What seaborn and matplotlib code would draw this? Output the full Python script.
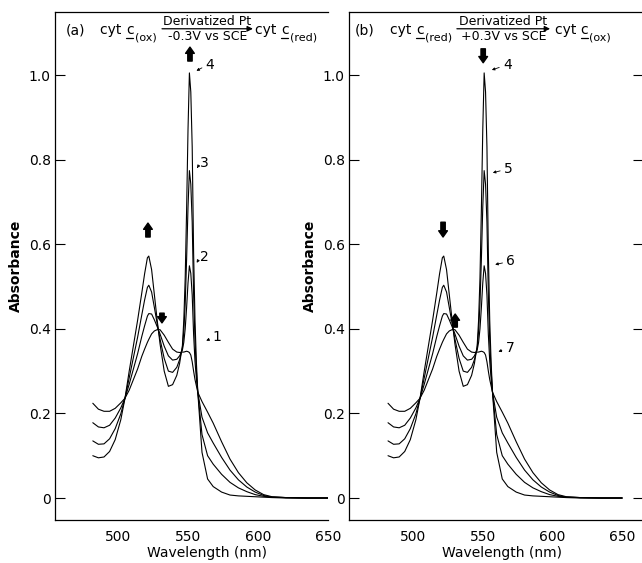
import pandas as pd
import matplotlib
matplotlib.use("Agg")
import matplotlib.pyplot as plt
import seaborn as sns

# wavelengths (nm) at which the spectra were read
wavelength = [482, 486, 490, 494, 498, 502, 505, 508, 511, 514, 517, 519, 521, 522, 524,
              526, 528, 530, 533, 536, 539, 542, 544, 546, 547, 548, 549, 550, 551, 552,
              553, 554, 555, 556, 557, 560, 564, 568, 574, 580, 586, 592, 598, 604, 610,
              620, 635, 650]

# oxidized cyt c
abs_ox = [0.224, 0.210, 0.205, 0.205, 0.212, 0.225, 0.236, 0.255, 0.280, 0.305, 0.335, 0.352,
          0.368, 0.375, 0.388, 0.395, 0.398, 0.398, 0.385, 0.368, 0.352, 0.345, 0.344, 0.345,
          0.345, 0.346, 0.347, 0.346, 0.344, 0.338, 0.322, 0.300, 0.280, 0.265, 0.250, 0.228,
          0.203, 0.177, 0.133, 0.092, 0.060, 0.036, 0.019, 0.008, 0.003, 0.001, 0.000, 0.000]

# partly reduced
abs_mid1 = [0.178, 0.168, 0.166, 0.172, 0.189, 0.213, 0.236, 0.269, 0.305, 0.341, 0.382, 0.407,
            0.430, 0.436, 0.435, 0.421, 0.405, 0.388, 0.359, 0.336, 0.326, 0.328, 0.336, 0.350,
            0.368, 0.400, 0.450, 0.508, 0.549, 0.531, 0.480, 0.387, 0.323, 0.282, 0.250, 0.191,
            0.154, 0.130, 0.096, 0.066, 0.043, 0.026, 0.014, 0.006, 0.002, 0.001, 0.000, 0.000]

abs_mid2 = [0.135, 0.127, 0.128, 0.140, 0.164, 0.199, 0.236, 0.284, 0.332, 0.380, 0.433, 0.468,
            0.498, 0.503, 0.487, 0.450, 0.412, 0.376, 0.330, 0.300, 0.297, 0.309, 0.327, 0.355,
            0.394, 0.459, 0.564, 0.687, 0.774, 0.742, 0.652, 0.482, 0.371, 0.301, 0.250, 0.150,
            0.100, 0.080, 0.056, 0.037, 0.024, 0.015, 0.008, 0.004, 0.002, 0.001, 0.000, 0.000]

# fully reduced cyt c
abs_red = [0.100, 0.095, 0.097, 0.110, 0.138, 0.185, 0.236, 0.300, 0.360, 0.420, 0.485, 0.530,
           0.568, 0.572, 0.540, 0.480, 0.420, 0.365, 0.300, 0.264, 0.268, 0.290, 0.318, 0.360,
           0.420, 0.520, 0.680, 0.870, 1.005, 0.960, 0.830, 0.580, 0.420, 0.320, 0.250, 0.108,
           0.045, 0.027, 0.014, 0.007, 0.005, 0.004, 0.003, 0.002, 0.001, 0.000, 0.000, 0.000]

yticks = [0, 0.2, 0.4, 0.6, 0.8, 1.0]
ytick_labels = ["0", "0.2", "0.4", "0.6", "0.8", "1.0"]
xticks = [500, 550, 600, 650]

labels_a = ["1", "2", "3", "4"]
labels_b = ["7", "6", "5", "4"]

# long format table for seaborn
spectra = {"ox": abs_ox, "mid1": abs_mid1, "mid2": abs_mid2, "red": abs_red}
rows = []
for name, values in spectra.items():
    for w, a in zip(wavelength, values):
        rows.append({"Wavelength": w, "Absorbance": a, "curve": name})
df = pd.DataFrame(rows)

sns.set_style("ticks")
plt.rcParams["font.family"] = ["DejaVu Sans"]
for key in ["text.color", "axes.labelcolor", "xtick.color", "ytick.color", "axes.edgecolor"]:
    plt.rcParams[key] = "black"

fig = plt.figure(figsize=(6.42, 5.63), dpi=100)
ax1 = fig.add_axes([55 / 642, 43 / 563, 273 / 642, 508 / 563])
ax2 = fig.add_axes([349 / 642, 43 / 563, 294 / 642, 508 / 563])
renderer = fig.canvas.get_renderer()


def setup_axes(ax, xlim, right_ticks):
    sns.lineplot(data=df, x="Wavelength", y="Absorbance", units="curve", estimator=None,
                 color="black", lw=0.8, ax=ax, legend=False)
    ax.set_xlim(*xlim)
    ax.set_ylim(-0.052, 1.149)
    ax.set_yticks(yticks, ytick_labels)
    ax.set_xticks(xticks)
    ax.tick_params(axis="y", direction="in", length=7, width=0.8, labelsize=10, pad=3,
                   right=right_ticks)
    ax.tick_params(axis="x", length=0, labelsize=10, pad=7)
    for s in ax.spines.values():
        s.set_linewidth(0.9)
    ax.spines["right"].set_visible(right_ticks)
    ax.set_ylabel("Absorbance", fontsize=10, fontweight="bold")
    ax.set_xlabel("Wavelength (nm)", fontsize=10)


setup_axes(ax1, (455, 650), False)
setup_axes(ax2, (454, 665), True)
ax1.yaxis.set_label_coords(-0.117, 0.5)
ax2.yaxis.set_label_coords(-0.109, 0.5)
ax1.xaxis.set_label_coords(0.557, -0.052)
ax2.xaxis.set_label_coords(0.52, -0.052)


def extent(ax, t):
    return t.get_window_extent(renderer).transformed(ax.transAxes.inverted())


def cyt_c(ax, x, y, sub):
    # "cyt c" with underlined c and a subscript state
    tf = ax.transAxes
    t1 = ax.text(x, y, "cyt ", transform=tf, fontsize=10, va="baseline")
    b1 = extent(ax, t1)
    t2 = ax.text(b1.x1, y, "c", transform=tf, fontsize=10, va="baseline")
    b2 = extent(ax, t2)
    ax.plot([b2.x0, b2.x1], [y - 0.007, y - 0.007], transform=tf, color="black",
            lw=0.9, clip_on=False)
    ax.text(b2.x1 + 0.004, y - 0.012, sub, transform=tf, fontsize=8, va="baseline")


# headers with the reaction arrows
def header(ax, tag, left, right, potential, xs):
    tf = ax.transAxes
    ax.text(xs[0], 0.956, tag, transform=tf, fontsize=10, va="baseline")
    cyt_c(ax, xs[1], 0.956, left)
    ax.annotate("", xy=(xs[3], 0.967), xytext=(xs[2], 0.967), xycoords="axes fraction",
                arrowprops=dict(arrowstyle="-|>", lw=0.9, color="black", mutation_scale=8,
                                shrinkA=0, shrinkB=0))
    mid = (xs[2] + xs[3]) / 2
    ax.text(mid, 0.981, "Derivatized Pt", transform=tf, fontsize=9, ha="center", va="center")
    ax.text(mid, 0.951, potential, transform=tf, fontsize=9, ha="center", va="center")
    cyt_c(ax, xs[4], 0.956, right)


header(ax1, "(a)", "(ox)", "(red)", "-0.3V vs SCE", [0.04, 0.165, 0.392, 0.725, 0.733])
header(ax2, "(b)", "(red)", "(ox)", "+0.3V vs SCE", [0.02, 0.14, 0.367, 0.684, 0.70])

# thick arrows showing the direction of change
def big_arrow(ax, x, y0, y1):
    ax.annotate("", xy=(x, y1), xytext=(x, y0),
                arrowprops=dict(arrowstyle="simple,head_length=0.5,head_width=0.7,tail_width=0.35",
                                color="black", mutation_scale=9, shrinkA=0, shrinkB=0))


big_arrow(ax1, 551.4, 1.033, 1.066)
big_arrow(ax1, 521.4, 0.617, 0.650)
big_arrow(ax1, 531.4, 0.437, 0.414)
big_arrow(ax2, 550.3, 1.062, 1.029)
big_arrow(ax2, 521.5, 0.652, 0.617)
big_arrow(ax2, 530.2, 0.404, 0.435)

# curve numbers with small leaders
def curve_label(ax, text, tx, ty, hx, hy):
    ax.text(tx, ty, text, fontsize=10, ha="center", va="center")
    ax.annotate("", xy=(hx, hy), xytext=(tx - 4, ty - 0.004),
                arrowprops=dict(arrowstyle="-|>", lw=0.6, color="black", mutation_scale=4,
                                shrinkA=2, shrinkB=0))


curve_label(ax1, labels_a[3], 565.7, 1.024, 556.0, 1.010)
curve_label(ax1, labels_a[2], 562.0, 0.792, 556.5, 0.780)
curve_label(ax1, labels_a[1], 562.0, 0.570, 556.2, 0.556)
curve_label(ax1, labels_a[0], 570.5, 0.381, 563.0, 0.372)
curve_label(ax2, labels_b[3], 567.7, 1.024, 556.5, 1.012)
curve_label(ax2, labels_b[2], 568.4, 0.779, 557.2, 0.769)
curve_label(ax2, labels_b[1], 570.1, 0.561, 558.9, 0.552)
curve_label(ax2, labels_b[0], 569.6, 0.355, 561.2, 0.346)

plt.savefig("out.png", dpi=100)
plt.close()
